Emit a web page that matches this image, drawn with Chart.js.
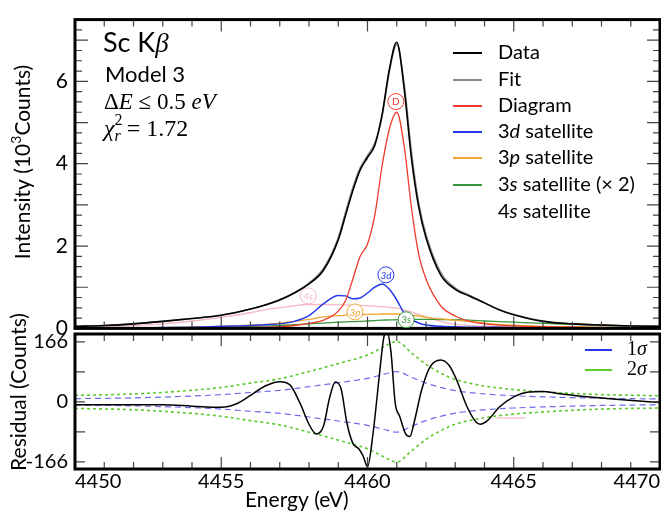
<!DOCTYPE html>
<html>
<head>
<meta charset="utf-8">
<script src="https://cdn.jsdelivr.net/npm/chart.js@4.4.1/dist/chart.umd.min.js"></script>
<style>
  html, body { margin: 0; padding: 0; background: #fff; }
  #wrap { position: relative; width: 661px; height: 513px; overflow: hidden; }
  #spectrum { position: absolute; left: 0; top: 0; }
  #residual { position: absolute; left: 0; top: 290px; }
</style>
</head>
<body>
<div id="wrap">
  <canvas id="spectrum" width="661" height="348"></canvas>
  <canvas id="residual" width="661" height="223"></canvas>
</div>
<script>
// ---- spectrum (10^3 counts) ----
const topEnergy = [4450, 4451, 4452, 4453, 4454, 4455, 4456, 4456.5, 4457, 4457.5, 4458, 4458.5,
  4459, 4459.25, 4459.5, 4459.75, 4460, 4460.25, 4460.5, 4460.75, 4461, 4461.25, 4461.5, 4461.75,
  4462, 4462.5, 4463, 4463.5, 4464, 4464.5, 4465, 4466, 4467, 4468, 4469, 4470];
const dataCounts = [0.05, 0.07, 0.11, 0.17, 0.24, 0.32, 0.47, 0.57, 0.69, 0.86, 1.08, 1.42,
  2.15, 2.75, 3.35, 3.85, 4.15, 4.45, 5.2, 6.3, 6.95, 5.85, 4.15, 2.95,
  2.2, 1.3, 0.95, 0.78, 0.62, 0.45, 0.33, 0.17, 0.11, 0.08, 0.06, 0.05];
const fitCounts = [0.05, 0.07, 0.11, 0.17, 0.24, 0.32, 0.47, 0.57, 0.70, 0.87, 1.10, 1.46,
  2.2, 2.82, 3.42, 3.9, 4.2, 4.5, 5.15, 6.25, 6.9, 5.95, 4.3, 3.05,
  2.28, 1.36, 0.98, 0.8, 0.62, 0.46, 0.34, 0.18, 0.11, 0.08, 0.06, 0.05];
const diagram = [0.005, 0.006, 0.008, 0.01, 0.012, 0.016, 0.022, 0.03, 0.04, 0.07, 0.12, 0.2,
  0.42, 0.68, 1.2, 1.75, 2.05, 2.75, 3.95, 4.85, 5.25, 4.45, 2.95, 1.8,
  1.2, 0.55, 0.3, 0.17, 0.11, 0.08, 0.06, 0.04, 0.03, 0.02, 0.02, 0.015];
const sat3d = [0.0, 0.005, 0.01, 0.02, 0.03, 0.05, 0.07, 0.09, 0.11, 0.17, 0.31, 0.6,
  0.8, 0.79, 0.72, 0.74, 0.86, 1.0, 1.08, 0.95, 0.69, 0.38, 0.22, 0.13,
  0.08, 0.05, 0.04, 0.03, 0.03, 0.025, 0.02, 0.02, 0.015, 0.01, 0.01, 0.01];
const sat3p = [0.01, 0.01, 0.015, 0.02, 0.03, 0.05, 0.08, 0.1, 0.13, 0.17, 0.22, 0.28,
  0.31, 0.32, 0.33, 0.335, 0.34, 0.345, 0.35, 0.35, 0.35, 0.34, 0.32, 0.3,
  0.27, 0.23, 0.2, 0.17, 0.13, 0.1, 0.08, 0.05, 0.04, 0.03, 0.02, 0.02];
const sat3s = [0.0, 0.005, 0.01, 0.015, 0.02, 0.03, 0.05, 0.06, 0.07, 0.09, 0.11, 0.13,
  0.15, 0.16, 0.165, 0.17, 0.18, 0.19, 0.2, 0.205, 0.21, 0.215, 0.22, 0.22,
  0.22, 0.215, 0.21, 0.2, 0.18, 0.165, 0.15, 0.12, 0.1, 0.08, 0.06, 0.05];
const sat4s = [0.03, 0.04, 0.07, 0.11, 0.18, 0.27, 0.38, 0.45, 0.5, 0.55, 0.58, 0.58,
  0.57, 0.57, 0.56, 0.56, 0.55, 0.54, 0.53, 0.51, 0.49, 0.45, 0.4, 0.34,
  0.28, 0.17, 0.1, 0.07, 0.05, 0.045, 0.04, 0.03, 0.025, 0.02, 0.02, 0.02];

// ---- residual (counts) ----
const resEnergy = [4450, 4451, 4452, 4453, 4454, 4454.5, 4455, 4455.5, 4456, 4456.5, 4457, 4457.35,
  4457.7, 4458, 4458.25, 4458.5, 4458.7, 4458.9, 4459.1, 4459.3, 4459.5, 4459.7, 4459.85, 4460,
  4460.2, 4460.4, 4460.55, 4460.65, 4460.8, 4460.95, 4461.1, 4461.3, 4461.45, 4461.6, 4461.85, 4462.15,
  4462.5, 4462.8, 4463.05, 4463.4, 4463.7, 4463.85, 4464.1, 4464.5, 4465, 4465.5, 4466, 4466.5,
  4467.5, 4468.5, 4469.5, 4470];
const residual = [-8, -8, -8, -8, -12, -14, -15, -6, 18, 44, 56, 47,
  -5, -62, -89, -66, 10, 55, 35, -60, -115, -130, -150, -180,
  -80, 70, 175, 200, 140, -5, -40, -88, -96, -55, 33, 98,
  116, 100, 60, -13, -55, -62, -52, -15, 14, 27, 29, 23,
  14, 7, 1, -2];
const sigEnergy = [4450, 4452, 4454, 4455, 4456, 4457, 4458, 4459, 4460, 4460.5, 4461, 4461.5,
  4462, 4462.5, 4463, 4464, 4465, 4466, 4468, 4470];
const sig1Up = [9, 11, 16, 20, 26, 32, 42, 53, 65, 75, 84, 68, 52, 40, 31, 22, 17, 14, 10, 8];
const sig1Down = [-9, -11, -16, -20, -26, -32, -42, -53, -65, -75, -84, -68, -52, -40, -31, -22, -17, -14, -10, -8];
const sig2Up = [18, 22, 32, 40, 52, 64, 84, 106, 130, 150, 167, 136, 104, 80, 62, 44, 34, 28, 20, 17];
const sig2Down = [-18, -22, -32, -40, -52, -64, -84, -106, -130, -150, -167, -136, -104, -80, -62, -44, -34, -28, -20, -17];
const strayEnergy = [4464.4, 4465.4];
const strayRes = [-45, -45];

// ---- axes ----
const xTicks = [4450, 4455, 4460, 4465, 4470];
const topYTicks = [0, 2, 4, 6];
const resYTicks = [-166, 0, 166];

const SANS = 'Lato';
const SERIF = '"Liberation Serif"';
const C = { data: '#000000', fit: '#8a8a8a', diag: '#ee3b2b', d3: '#2438ee', p3: '#f2a533',
  s3: '#3a963a', s4: '#f5b8c4', sig1: '#6c6cf0', sig2: '#5cc92e' };

const peakTags = [
  { t: 'D', e: 4460.97, v: 5.51, c: C.diag },
  { t: '3d', e: 4460.63, v: 1.30, c: C.d3 },
  { t: '4s', e: 4457.97, v: 0.79, c: C.s4 },
  { t: '3p', e: 4459.57, v: 0.40, c: C.p3 },
  { t: '3s', e: 4461.32, v: 0.21, c: C.s3 }
];

function pts(xs, ys) { return xs.map((x, i) => ({ x: x, y: ys[i] })); }

function line(label, xs, ys, color, width, order, extra) {
  return Object.assign({
    label: label, data: pts(xs, ys), borderColor: color, borderWidth: width,
    pointRadius: 0, fill: false, cubicInterpolationMode: 'monotone', order: order
  }, extra || {});
}

function runsWidth(ctx, runs) {
  let w = 0;
  for (const r of runs) { ctx.font = r.f; if (!r.stay) w += ctx.measureText(r.t).width; }
  return w;
}
function drawRuns(ctx, x, y, runs) {
  for (const r of runs) {
    ctx.font = r.f;
    ctx.fillText(r.t, x, y + (r.dy || 0));
    if (!r.stay) x += ctx.measureText(r.t).width;
  }
}

// inward tick marks + heavy frame
function drawFrame(chart, yMarks) {
  const { ctx, chartArea: a, scales } = chart;
  ctx.save();
  ctx.strokeStyle = '#444';
  ctx.lineWidth = 1.2;
  ctx.beginPath();
  for (let e = 4450; e <= 4470; e += 1) {
    const px = scales.x.getPixelForValue(e);
    const len = e % 5 === 0 ? 12 : 7;
    ctx.moveTo(px, a.top); ctx.lineTo(px, a.top + len);
    ctx.moveTo(px, a.bottom); ctx.lineTo(px, a.bottom - len);
  }
  for (const m of yMarks) {
    const py = scales.y.getPixelForValue(m.v);
    ctx.moveTo(a.left, py); ctx.lineTo(a.left + m.len, py);
    ctx.moveTo(a.right, py); ctx.lineTo(a.right - m.len, py);
  }
  ctx.stroke();
  ctx.strokeStyle = '#000';
  ctx.lineWidth = 3;
  ctx.strokeRect(a.left, a.top, a.right - a.left, a.bottom - a.top);
  ctx.restore();
}

const topDecor = {
  id: 'topDecor',
  afterDatasetsDraw(chart) {
    const marks = [];
    for (let v = 0; v <= 7.5; v += 0.25) marks.push({ v: v, len: v % 1 === 0 ? 13 : 7 });
    drawFrame(chart, marks);
    const { ctx, scales } = chart;
    ctx.save();
    ctx.fillStyle = '#000';
    ctx.textAlign = 'left';
    ctx.textBaseline = 'alphabetic';
    drawRuns(ctx, 103, 52, [{ t: 'Sc K', f: '27px ' + SANS }, { t: 'β', f: 'italic 27px ' + SERIF }]);
    drawRuns(ctx, 105, 82, [{ t: 'Model 3', f: '22px ' + SANS }]);
    drawRuns(ctx, 104, 109, [{ t: 'Δ', f: '23px ' + SERIF }, { t: 'E', f: 'italic 23px ' + SERIF },
      { t: ' ≤ 0.5 ', f: '23px ' + SERIF }, { t: 'eV', f: 'italic 23px ' + SERIF }]);
    drawRuns(ctx, 104, 136, [{ t: 'χ', f: 'italic 24px ' + SERIF },
      { t: '2', f: '16px ' + SERIF, dy: -11, stay: true }, { t: 'r', f: 'italic 16px ' + SERIF, dy: 5 },
      { t: ' = 1.72', f: '24px ' + SERIF }]);

    // legend
    const rows = [
      { c: C.data, r: [{ t: 'Data' }] },
      { c: C.fit, r: [{ t: 'Fit' }] },
      { c: C.diag, r: [{ t: 'Diagram' }] },
      { c: C.d3, r: [{ t: '3' }, { t: 'd', i: 1 }, { t: ' satellite' }] },
      { c: C.p3, r: [{ t: '3' }, { t: 'p', i: 1 }, { t: ' satellite' }] },
      { c: C.s3, r: [{ t: '3' }, { t: 's', i: 1 }, { t: ' satellite (× 2)' }] },
      { c: null, r: [{ t: '4' }, { t: 's', i: 1 }, { t: ' satellite' }] }
    ];
    const rowY = [53, 80, 106, 132, 158, 185, 212];
    ctx.textBaseline = 'middle';
    rows.forEach((row, k) => {
      if (row.c) {
        ctx.strokeStyle = row.c; ctx.lineWidth = 2;
        ctx.beginPath(); ctx.moveTo(453, rowY[k]); ctx.lineTo(482, rowY[k]); ctx.stroke();
      }
      drawRuns(ctx, 498, rowY[k], row.r.map(p => ({ t: p.t, f: (p.i ? 'italic ' : '') + '20px ' + SANS })));
    });

    // circled component tags
    ctx.textAlign = 'center';
    ctx.lineWidth = 1;
    for (const g of peakTags) {
      const px = scales.x.getPixelForValue(g.e), py = scales.y.getPixelForValue(g.v);
      ctx.strokeStyle = g.c;
      ctx.beginPath(); ctx.arc(px, py, 8, 0, Math.PI * 2);
      ctx.fillStyle = '#fff'; ctx.fill(); ctx.stroke();
      ctx.fillStyle = g.c;
      ctx.font = (g.t === 'D' ? '' : 'italic ') + '10px ' + SANS;
      ctx.fillText(g.t, px, py + 0.5);
    }

    // y title
    ctx.fillStyle = '#000';
    ctx.textAlign = 'left';
    ctx.textBaseline = 'alphabetic';
    const title = [{ t: 'Intensity (10', f: '21px ' + SANS }, { t: '3', f: '14px ' + SANS, dy: -9 },
      { t: 'Counts)', f: '21px ' + SANS }];
    ctx.translate(30, 162);
    ctx.rotate(-Math.PI / 2);
    drawRuns(ctx, -runsWidth(ctx, title) / 2, 0, title);
    ctx.restore();
  }
};

const resDecor = {
  id: 'resDecor',
  afterDatasetsDraw(chart) {
    const marks = [];
    for (let v = -166; v <= 166; v += 83) marks.push({ v: v, len: 10 });
    drawFrame(chart, marks);
    const { ctx } = chart;
    ctx.save();
    ctx.textAlign = 'left';
    ctx.textBaseline = 'middle';
    const leg = [{ c: C.d3, y: 60, t: '1' }, { c: C.sig2, y: 80, t: '2' }];
    for (const l of leg) {
      ctx.strokeStyle = l.c; ctx.lineWidth = 2;
      ctx.beginPath(); ctx.moveTo(585, l.y); ctx.lineTo(612, l.y); ctx.stroke();
      ctx.fillStyle = '#000';
      drawRuns(ctx, 627, l.y, [{ t: l.t, f: '20px ' + SERIF }, { t: 'σ', f: 'italic 20px ' + SERIF }]);
    }
    ctx.textBaseline = 'alphabetic';
    ctx.fillStyle = '#000';
    drawRuns(ctx, 245, 217, [{ t: 'Energy (eV)', f: '21px ' + SANS }]);
    const title = [{ t: 'Residual (Counts)', f: '21px ' + SANS }];
    ctx.translate(26, 102);
    ctx.rotate(-Math.PI / 2);
    drawRuns(ctx, -runsWidth(ctx, title) / 2, 0, title);
    ctx.restore();
  }
};

const plainNum = v => String(v);

const xScale = (showLabels) => ({
  type: 'linear', min: 4450, max: 4470,
  display: true,
  border: { display: false },
  grid: { display: false, drawTicks: false },
  afterBuildTicks: s => { s.ticks = xTicks.map(v => ({ value: v })); },
  afterFit: s => { s.height = showLabels ? 44 : 0; },
  ticks: { display: showLabels, align: 'inner', padding: 1, color: '#000', callback: plainNum,
    font: { family: SANS, size: 20 } }
});

new Chart(document.getElementById('spectrum'), {
  type: 'line',
  data: {
    datasets: [
      line('Data', topEnergy, dataCounts, C.data, 1.6, 1),
      line('Fit', topEnergy, fitCounts, C.fit, 1.6, 2),
      line('Diagram', topEnergy, diagram, C.diag, 1.3, 3),
      line('3d satellite', topEnergy, sat3d, C.d3, 1.5, 4),
      line('3p satellite', topEnergy, sat3p, C.p3, 1.3, 5),
      line('3s satellite (x 2)', topEnergy, sat3s, C.s3, 1.3, 6),
      line('4s satellite', topEnergy, sat4s, C.s4, 1.3, 7)
    ]
  },
  options: {
    responsive: false,
    animation: false,
    layout: { padding: { top: 10, right: 1, left: 0, bottom: 15 } },
    plugins: { legend: { display: false }, tooltip: { enabled: false } },
    scales: {
      x: xScale(false),
      y: {
        min: 0, max: 7.5,
        border: { display: false },
        grid: { display: false, drawTicks: false },
        afterBuildTicks: s => { s.ticks = topYTicks.map(v => ({ value: v })); },
        afterFit: s => { s.width = 75; },
        ticks: { padding: 7, color: '#000', callback: plainNum, font: { family: SANS, size: 21 } }
      }
    }
  },
  plugins: [topDecor]
});

new Chart(document.getElementById('residual'), {
  type: 'line',
  data: {
    datasets: [
      line('Residual', resEnergy, residual, '#000', 1.5, 1),
      line('1σ', sigEnergy, sig1Up, C.sig1, 1.2, 2, { borderDash: [6, 4] }),
      line('1σ low', sigEnergy, sig1Down, C.sig1, 1.2, 3, { borderDash: [6, 4] }),
      line('2σ', sigEnergy, sig2Up, C.sig2, 1.6, 4, { borderDash: [3, 3] }),
      line('2σ low', sigEnergy, sig2Down, C.sig2, 1.6, 5, { borderDash: [3, 3] }),
      line('stray', strayEnergy, strayRes, C.s4, 1.2, 6)
    ]
  },
  options: {
    responsive: false,
    animation: false,
    layout: { padding: { top: 44, right: 1, left: 0, bottom: 0 } },
    plugins: { legend: { display: false }, tooltip: { enabled: false } },
    scales: {
      x: xScale(true),
      y: {
        min: -186, max: 188,
        border: { display: false },
        grid: { display: false, drawTicks: false },
        afterBuildTicks: s => { s.ticks = resYTicks.map(v => ({ value: v })); },
        afterFit: s => { s.width = 75; },
        ticks: { padding: 7, color: '#000', callback: plainNum, font: { family: SANS, size: 20 } }
      }
    }
  },
  plugins: [resDecor]
});
</script>
</body>
</html>
